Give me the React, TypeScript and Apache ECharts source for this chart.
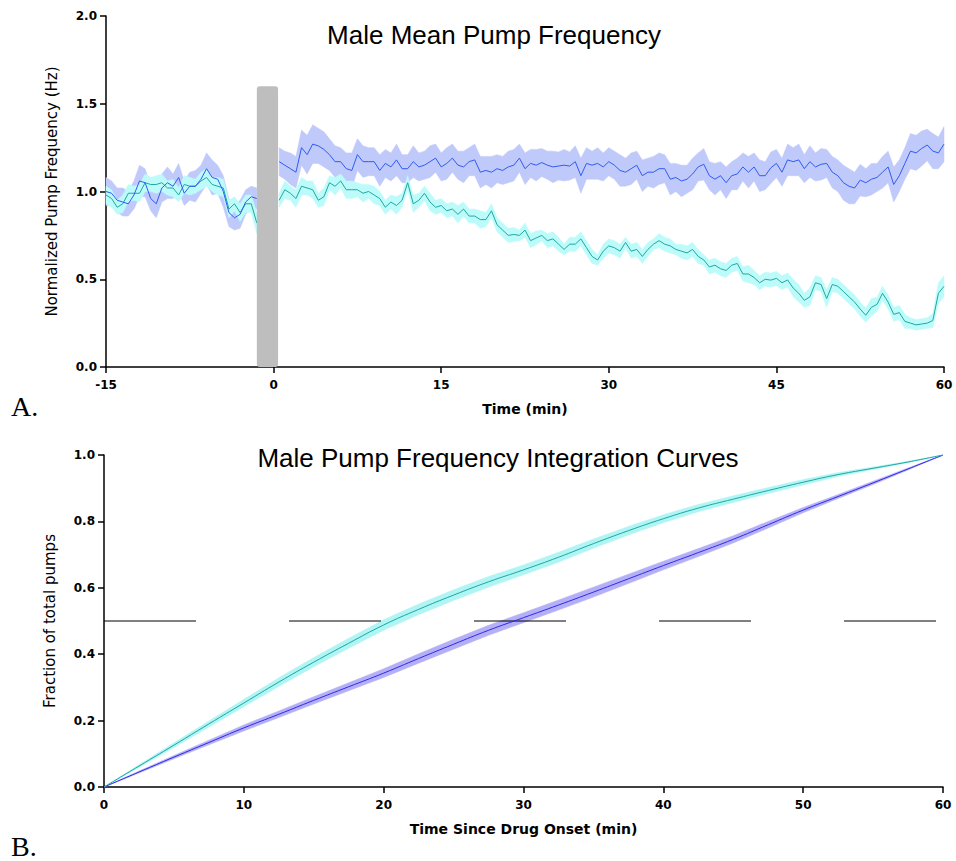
import React, { useEffect, useRef } from "react";
import * as echarts from "echarts";

// ---------- Panel A : mean pump frequency (0.5 min bins) ----------
const STEP = 0.5;
const bins = (start: number, n: number) =>
  Array.from({ length: n }, (_, i) => +(start + i * STEP).toFixed(2));

const preTime = [...bins(-15, 27), -1.5];
const postTime = bins(0.5, 120);

const preBlue = [1.0, 0.99, 0.95, 0.94, 0.93, 0.98, 1.06, 1.05, 0.96, 0.93, 1.02, 1.05, 1.03, 1.08, 0.99, 1.03, 1.03, 1.07, 1.13, 1.08, 1.07, 1.0, 0.88, 0.85, 0.87, 0.94, 0.97, 0.96];
const preBlueSem = [0.08, 0.07, 0.07, 0.08, 0.07, 0.08, 0.09, 0.08, 0.07, 0.08, 0.08, 0.09, 0.07, 0.08, 0.07, 0.08, 0.09, 0.08, 0.09, 0.1, 0.08, 0.09, 0.08, 0.07, 0.08, 0.07, 0.06, 0.06];
const preTeal = [0.98, 0.96, 0.91, 0.93, 0.99, 0.99, 0.99, 1.05, 1.04, 1.04, 1.05, 1.02, 1.02, 0.98, 1.04, 1.03, 1.03, 1.06, 1.08, 1.04, 1.03, 1.02, 0.9, 0.93, 0.88, 0.93, 0.93, 0.82];
const preTealSem = [0.05, 0.05, 0.04, 0.05, 0.05, 0.04, 0.05, 0.05, 0.04, 0.05, 0.05, 0.04, 0.05, 0.04, 0.05, 0.05, 0.04, 0.05, 0.05, 0.04, 0.05, 0.05, 0.05, 0.04, 0.05, 0.05, 0.05, 0.06];

const postBlue = [
  1.17, 1.15, 1.13, 1.11, 1.25, 1.21, 1.27, 1.26, 1.24, 1.21,
  1.17, 1.17, 1.13, 1.12, 1.21, 1.17, 1.17, 1.17, 1.12, 1.16,
  1.14, 1.18, 1.13, 1.13, 1.17, 1.14, 1.15, 1.17, 1.19, 1.14,
  1.16, 1.19, 1.15, 1.14, 1.17, 1.18, 1.11, 1.12, 1.11, 1.13,
  1.12, 1.14, 1.15, 1.19, 1.13, 1.16, 1.15, 1.165, 1.15, 1.14,
  1.145, 1.15, 1.145, 1.17, 1.09, 1.16, 1.15, 1.16, 1.14, 1.17,
  1.15, 1.12, 1.11, 1.13, 1.15, 1.09, 1.11, 1.11, 1.13, 1.13,
  1.07, 1.08, 1.06, 1.07, 1.1, 1.14, 1.155, 1.09, 1.07, 1.09,
  1.05, 1.09, 1.1, 1.14, 1.11, 1.14, 1.09, 1.09, 1.135, 1.16,
  1.11, 1.18, 1.17, 1.18, 1.13, 1.17, 1.14, 1.155, 1.16, 1.11,
  1.09, 1.05, 1.03, 1.02, 1.065, 1.05, 1.07, 1.08, 1.11, 1.14,
  1.04, 1.09, 1.16, 1.23, 1.22, 1.245, 1.265, 1.23, 1.22, 1.27,
];
const postBlueSem = [
  0.08, 0.08, 0.09, 0.09, 0.1, 0.11, 0.11, 0.1, 0.1, 0.09,
  0.09, 0.08, 0.09, 0.1, 0.09, 0.09, 0.08, 0.08, 0.09, 0.08,
  0.08, 0.09, 0.08, 0.08, 0.09, 0.08, 0.08, 0.09, 0.08, 0.08,
  0.09, 0.08, 0.08, 0.09, 0.08, 0.09, 0.09, 0.08, 0.09, 0.08,
  0.08, 0.09, 0.09, 0.08, 0.09, 0.08, 0.09, 0.08, 0.08, 0.09,
  0.08, 0.09, 0.08, 0.09, 0.1, 0.09, 0.08, 0.09, 0.08, 0.08,
  0.08, 0.09, 0.08, 0.09, 0.08, 0.09, 0.08, 0.09, 0.09, 0.08,
  0.09, 0.08, 0.09, 0.08, 0.09, 0.08, 0.09, 0.08, 0.09, 0.08,
  0.09, 0.08, 0.09, 0.08, 0.09, 0.08, 0.09, 0.08, 0.09, 0.08,
  0.08, 0.09, 0.08, 0.09, 0.08, 0.09, 0.08, 0.09, 0.08, 0.09,
  0.09, 0.1, 0.1, 0.09, 0.09, 0.08, 0.09, 0.08, 0.09, 0.09,
  0.1, 0.09, 0.09, 0.1, 0.1, 0.1, 0.09, 0.1, 0.09, 0.1,
];
const postTeal = [
  0.95, 1.01, 0.99, 0.96, 1.03, 1.02, 1.01, 0.95, 0.97, 1.05,
  1.03, 1.06, 1.01, 1.01, 1.01, 0.99, 1.0, 0.98, 0.96, 0.91,
  0.94, 0.92, 0.95, 1.05, 0.93, 0.95, 0.99, 0.94, 0.91, 0.92,
  0.89, 0.9, 0.87, 0.9, 0.86, 0.86, 0.84, 0.84, 0.89, 0.81,
  0.78, 0.75, 0.755, 0.75, 0.78, 0.72, 0.735, 0.75, 0.72, 0.73,
  0.7, 0.67, 0.7, 0.7, 0.73, 0.68, 0.63, 0.61, 0.66, 0.69,
  0.68, 0.66, 0.71, 0.66, 0.67, 0.63, 0.67, 0.7, 0.72, 0.7,
  0.69, 0.67, 0.66, 0.65, 0.67, 0.63, 0.61, 0.57, 0.58, 0.56,
  0.55, 0.58, 0.59, 0.53, 0.53, 0.51, 0.48, 0.5, 0.495, 0.505,
  0.48, 0.496, 0.45, 0.42, 0.38, 0.4, 0.48, 0.47, 0.39, 0.47,
  0.46, 0.43, 0.4, 0.37, 0.33, 0.295, 0.34, 0.357, 0.42, 0.37,
  0.3, 0.31, 0.26, 0.25, 0.24, 0.245, 0.25, 0.265, 0.42, 0.46,
];
const postTealSem = [
  0.04, 0.05, 0.04, 0.05, 0.05, 0.04, 0.05, 0.04, 0.05, 0.04,
  0.05, 0.04, 0.05, 0.05, 0.04, 0.05, 0.04, 0.05, 0.04, 0.04,
  0.04, 0.05, 0.04, 0.04, 0.05, 0.04, 0.04, 0.05, 0.04, 0.04,
  0.04, 0.04, 0.05, 0.04, 0.04, 0.04, 0.05, 0.04, 0.04, 0.04,
  0.04, 0.04, 0.04, 0.03, 0.04, 0.04, 0.04, 0.03, 0.04, 0.04,
  0.04, 0.03, 0.04, 0.04, 0.04, 0.04, 0.04, 0.03, 0.04, 0.04,
  0.04, 0.04, 0.03, 0.04, 0.04, 0.04, 0.04, 0.03, 0.04, 0.04,
  0.04, 0.03, 0.04, 0.04, 0.04, 0.04, 0.03, 0.04, 0.04, 0.04,
  0.04, 0.04, 0.04, 0.04, 0.05, 0.04, 0.04, 0.04, 0.04, 0.04,
  0.04, 0.04, 0.05, 0.05, 0.04, 0.05, 0.04, 0.04, 0.05, 0.04,
  0.04, 0.04, 0.04, 0.04, 0.04, 0.04, 0.05, 0.04, 0.04, 0.04,
  0.04, 0.04, 0.04, 0.03, 0.03, 0.03, 0.03, 0.04, 0.06, 0.06,
];

// drug infusion marker (min, Hz)
const drugStart = -1.5;
const drugEnd = 0.4;
const drugTop = 1.6;

// ---------- Panel B : integration curves ----------
const cumTime = [0, 2.5, 5, 7.5, 10, 12.5, 15, 17.5, 20, 22.5, 25, 27.5, 30, 32.5, 35, 37.5, 40, 42.5, 45, 47.5, 50, 52.5, 55, 57.5, 60];
const cumTeal = [0, 0.063, 0.126, 0.19, 0.253, 0.316, 0.376, 0.433, 0.488, 0.535, 0.578, 0.618, 0.654, 0.692, 0.733, 0.772, 0.808, 0.84, 0.867, 0.893, 0.918, 0.941, 0.96, 0.979, 1.0];
const cumTealSem = [0, 0.004, 0.007, 0.009, 0.011, 0.013, 0.014, 0.015, 0.016, 0.016, 0.016, 0.016, 0.015, 0.015, 0.014, 0.013, 0.012, 0.011, 0.01, 0.009, 0.008, 0.006, 0.004, 0.002, 0];
const cumBlue = [0, 0.045, 0.09, 0.134, 0.178, 0.219, 0.261, 0.302, 0.343, 0.387, 0.43, 0.472, 0.51, 0.548, 0.587, 0.627, 0.667, 0.706, 0.746, 0.79, 0.834, 0.875, 0.916, 0.958, 1.0];
const cumBlueSem = [0, 0.003, 0.005, 0.007, 0.009, 0.01, 0.011, 0.012, 0.013, 0.014, 0.015, 0.015, 0.015, 0.015, 0.015, 0.014, 0.013, 0.012, 0.011, 0.01, 0.008, 0.006, 0.005, 0.003, 0];
const halfLine = { y: 0.5, from: 0, to: 60 };

// ---------- helpers ----------
type Seg = { t: number[]; m: number[]; s: number[] };

function bandSeries(segs: Seg[], color: string, axis: number, z: number) {
  return {
    type: "custom",
    xAxisIndex: axis,
    yAxisIndex: axis,
    z,
    silent: true,
    data: segs.map((sg, i) => [sg.t[0], sg.m[0], i]),
    renderItem: (params: any, api: any) => {
      const sg = segs[params.dataIndex];
      const up = sg.t.map((t, k) => api.coord([t, sg.m[k] + sg.s[k]]));
      const lo = sg.t.map((t, k) => api.coord([t, sg.m[k] - sg.s[k]])).reverse();
      return {
        type: "polygon",
        shape: { points: up.concat(lo) },
        style: { fill: color, stroke: color, lineWidth: 0.5 },
      };
    },
  };
}

function lineSeries(t: number[], v: number[], color: string, axis: number, z: number, smooth = false) {
  return {
    type: "line",
    xAxisIndex: axis,
    yAxisIndex: axis,
    z,
    silent: true,
    symbol: "none",
    smooth,
    data: t.map((x, i) => [x, v[i]]),
    lineStyle: { color, width: 1 },
  };
}

const FONT_BOLD = { fontFamily: "DejaVu Sans", fontWeight: "bold", color: "#000" };

function xAxis(gridIndex: number, min: number, max: number, interval: number, name: string) {
  return {
    type: "value",
    gridIndex,
    min,
    max,
    interval,
    name,
    nameLocation: "middle",
    nameGap: 35,
    nameTextStyle: { ...FONT_BOLD, fontSize: 14 },
    axisLine: { onZero: false, lineStyle: { color: "#000", width: 1.5 } },
    axisTick: { length: 6, lineStyle: { color: "#000", width: 1.5 } },
    splitLine: { show: false },
    axisLabel: { ...FONT_BOLD, fontSize: 12, margin: 12, formatter: (v: number) => String(v) },
  };
}

function yAxis(gridIndex: number, min: number, max: number, interval: number, name: string) {
  return {
    type: "value",
    gridIndex,
    min,
    max,
    interval,
    name,
    nameLocation: "middle",
    nameRotate: 90,
    nameGap: 47,
    nameTextStyle: { fontFamily: "DejaVu Sans", fontSize: 15, color: "#000" },
    axisLine: { show: true, onZero: false, lineStyle: { color: "#000", width: 1.5 } },
    axisTick: { show: true, length: 6, lineStyle: { color: "#000", width: 1.5 } },
    splitLine: { show: false },
    axisLabel: { ...FONT_BOLD, fontSize: 12, margin: 9, formatter: (v: number) => v.toFixed(1) },
  };
}

const BLUE_LINE = "#2f5cf2";
const BLUE_BAND = "#bfc9fa";
const TEAL_LINE = "#1fa89c";
const TEAL_BAND = "#bdfbfb";
const B_BLUE_LINE = "#2a2af0";
const B_BLUE_BAND = "#b5aff6";
const B_TEAL_LINE = "#1aa8a0";
const B_TEAL_BAND = "#b0f4f4";

export default function App() {
  const ref = useRef<HTMLDivElement>(null);

  useEffect(() => {
    if (!ref.current) return;
    const chart = echarts.init(ref.current, undefined, { renderer: "svg" });

    const option: any = {
      animation: false,
      backgroundColor: "#fff",
      grid: [
        { left: 106, right: 12, top: 16, bottom: 494 },
        { left: 104, right: 13, top: 455, bottom: 74 },
      ],
      xAxis: [
        xAxis(0, -15, 60, 15, "Time (min)"),
        xAxis(1, 0, 60, 10, "Time Since Drug Onset (min)"),
      ],
      yAxis: [
        yAxis(0, 0, 2, 0.5, "Normalized Pump Frequency (Hz)"),
        yAxis(1, 0, 1, 0.2, "Fraction of total pumps"),
      ],
      graphic: [
        {
          type: "text",
          x: 494,
          y: 35,
          silent: true,
          style: { text: "Male Mean Pump Frequency", font: "26px 'Liberation Sans'", fill: "#000", textAlign: "center", textVerticalAlign: "middle", verticalAlign: "middle" },
        },
        {
          type: "text",
          x: 498,
          y: 458,
          silent: true,
          style: { text: "Male Pump Frequency Integration Curves", font: "26px 'Liberation Sans'", fill: "#000", textAlign: "center", textVerticalAlign: "middle", verticalAlign: "middle" },
        },
        {
          type: "text",
          x: 11,
          y: 406,
          silent: true,
          style: { text: "A.", font: "28px 'Liberation Serif'", fill: "#000", textAlign: "left", textVerticalAlign: "middle", verticalAlign: "middle" },
        },
        {
          type: "text",
          x: 11,
          y: 846,
          silent: true,
          style: { text: "B.", font: "28px 'Liberation Serif'", fill: "#000", textAlign: "left", textVerticalAlign: "middle", verticalAlign: "middle" },
        },
      ],
      series: [
        bandSeries(
          [
            { t: preTime, m: preBlue, s: preBlueSem },
            { t: postTime, m: postBlue, s: postBlueSem },
          ],
          BLUE_BAND,
          0,
          1
        ),
        bandSeries(
          [
            { t: preTime, m: preTeal, s: preTealSem },
            { t: postTime, m: postTeal, s: postTealSem },
          ],
          TEAL_BAND,
          0,
          2
        ),
        lineSeries(preTime, preTeal, TEAL_LINE, 0, 3),
        lineSeries(postTime, postTeal, TEAL_LINE, 0, 3),
        lineSeries(preTime, preBlue, BLUE_LINE, 0, 4),
        lineSeries(postTime, postBlue, BLUE_LINE, 0, 4),
        {
          type: "custom",
          xAxisIndex: 0,
          yAxisIndex: 0,
          z: 6,
          silent: true,
          data: [[drugStart, drugEnd, drugTop]],
          renderItem: (_p: any, api: any) => {
            const a = api.coord([api.value(0), api.value(2)]);
            const b = api.coord([api.value(1), 0]);
            return {
              type: "rect",
              shape: { x: a[0], y: a[1], width: b[0] - a[0], height: b[1] - a[1], r: 3 },
              style: { fill: "#bebebe" },
            };
          },
        },
        // Panel B
        bandSeries([{ t: cumTime, m: cumBlue, s: cumBlueSem }], B_BLUE_BAND, 1, 1),
        bandSeries([{ t: cumTime, m: cumTeal, s: cumTealSem }], B_TEAL_BAND, 1, 2),
        lineSeries(cumTime, cumBlue, B_BLUE_LINE, 1, 4, true),
        lineSeries(cumTime, cumTeal, B_TEAL_LINE, 1, 4, true),
        {
          type: "line",
          xAxisIndex: 1,
          yAxisIndex: 1,
          z: 3,
          silent: true,
          symbol: "none",
          data: [
            [halfLine.from, halfLine.y],
            [halfLine.to, halfLine.y],
          ],
          lineStyle: { color: "#000", width: 1, type: [92, 93] },
        },
      ],
    };

    chart.setOption(option);
    return () => chart.dispose();
  }, []);

  return (
    <div
      ref={ref}
      style={{ position: "fixed", left: 0, top: 0, width: 956, height: 861, background: "#fff" }}
    />
  );
}
